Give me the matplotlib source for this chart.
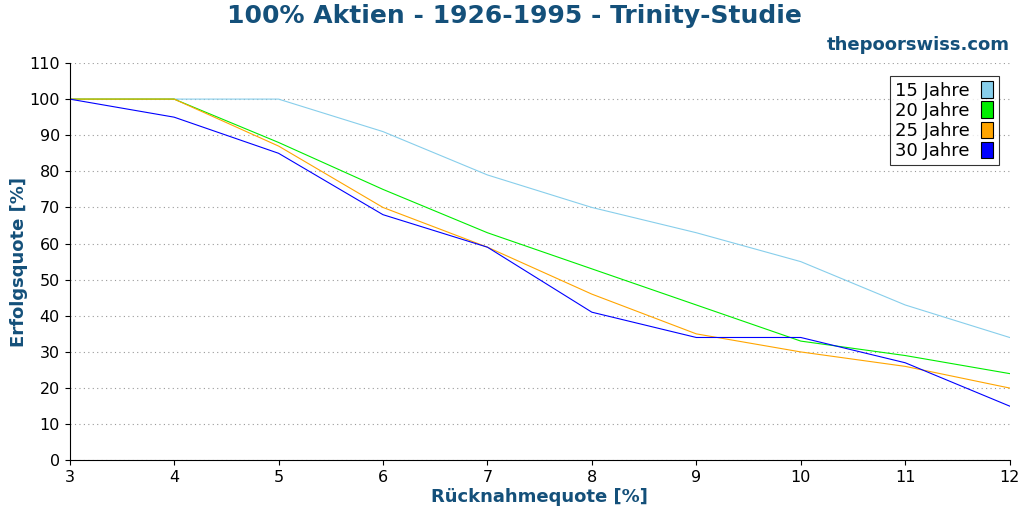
import matplotlib
matplotlib.use("Agg")
import matplotlib.pyplot as plt
from matplotlib.patches import Patch

x = [3, 4, 5, 6, 7, 8, 9, 10, 11, 12]
s15 = [100, 100, 100, 91, 79, 70, 63, 55, 43, 34]
s20 = [100, 100, 88, 75, 63, 53, 43, 33, 29, 24]
s25 = [100, 100, 87, 70, 59, 46, 35, 30, 26, 20]
s30 = [100, 95, 85, 68, 59, 41, 34, 34, 27, 15]
labels = ["15 Jahre", "20 Jahre", "25 Jahre", "30 Jahre"]
colors = ["#87ceeb", "#00ee00", "#ffa500", "#0000ff"]

blue = "#14507a"
fig = plt.figure(figsize=(10.24, 5.12), dpi=100)
ax = fig.add_axes([0.068, 0.101, 0.918, 0.776])
for s, c in zip([s15, s20, s25, s30], colors):
    ax.plot(x, s, color=c, lw=0.8)
ax.set_xlim(3, 12)
ax.set_ylim(0, 110)
ax.set_xticks(range(3, 13))
ax.set_yticks(range(0, 111, 10))
ax.grid(axis="y", linestyle=(0, (1, 3)), color="#999999", lw=0.8)
for sp in ["top", "right"]:
    ax.spines[sp].set_visible(False)
ax.tick_params(labelsize=11.5)
ax.set_xlabel("Rücknahmequote [%]", fontsize=13, fontweight="bold", color=blue, labelpad=2)
ax.set_ylabel("Erfolgsquote [%]", fontsize=13, fontweight="bold", color=blue, labelpad=1)
fig.text(0.502, 0.968, "100% Aktien - 1926-1995 - Trinity-Studie", ha="center", va="center",
         fontsize=18, fontweight="bold", color=blue)
fig.text(0.986, 0.912, "thepoorswiss.com", ha="right", va="center", fontsize=13,
         fontweight="bold", color=blue)
handles = [Patch(facecolor=c, edgecolor="black", lw=0.8) for c in colors]
leg = ax.legend(handles, labels, loc="upper right", markerfirst=False, fontsize=13,
                fancybox=False, edgecolor="black", handlelength=0.7, handleheight=1.0,
                labelspacing=0.1, borderpad=0.3, handletextpad=0.6,
                bbox_to_anchor=(0.998, 0.99))
leg.get_frame().set_linewidth(0.8)
fig.savefig("out.png")
